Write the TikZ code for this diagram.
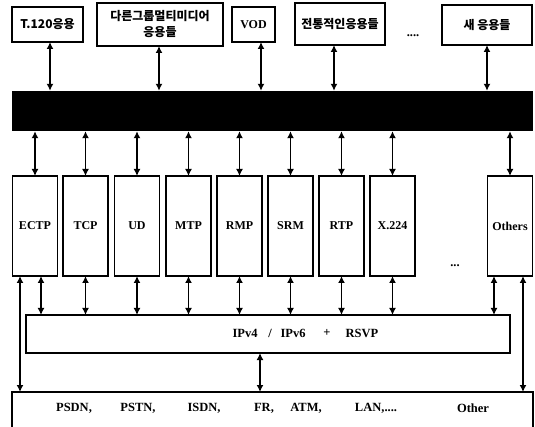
\documentclass[tikz,border=0pt]{standalone}
\usepackage{fontspec}
\setmainfont{Liberation Serif}
\newfontfamily\kr{Noto Sans CJK KR}
\usetikzlibrary{arrows.meta}
\begin{document}
\begin{tikzpicture}[x=1pt,y=-1pt,
  box/.style={draw, line width=1.4pt, inner sep=0pt, outer sep=0pt, align=center},
  appbox/.style={box, font=\kr\bfseries\fontsize{12}{16}\selectfont},
  protobox/.style={box, minimum width=45pt, minimum height=100pt, font=\bfseries\fontsize{12}{14}\selectfont},
  lbl/.style={inner sep=0pt, font=\bfseries\fontsize{12.5}{14}\selectfont},
  dar/.style={line width=1.5pt, {Latex[length=7pt,width=7pt]}-{Latex[length=7pt,width=7pt]}}]
\useasboundingbox (0,0) rectangle (535,427);
\clip (0,0) rectangle (535,427);
% application boxes
\node[appbox, minimum width=71pt, minimum height=35pt] (t1) at (47.5,24.5) {T.120응용};
\node[appbox, minimum width=126pt, minimum height=43pt] (t2) at (160,24.5) {다른그룹멀티미디어\\응용들};
\node[box, minimum width=43pt, minimum height=35pt, font=\bfseries\fontsize{12}{14}\selectfont] (t3) at (253.5,24.5) {VOD};
\node[appbox, minimum width=90pt, minimum height=42pt] (t4) at (340,24) {전통적인응용들};
\node[lbl] (dots1) at (413,36) {....};
\node[appbox, minimum width=90pt, minimum height=40pt] (t5) at (487,25) {새 응용들};
% black bar
\node[fill=black, inner sep=0pt, minimum width=521pt, minimum height=40pt] (bar) at (272.5,111) {};
\draw[dar] (t1.south -| 50,0) -- (bar.north -| 50,0);
\draw[dar] (t2.south -| 159,0) -- (bar.north -| 159,0);
\draw[dar] (t3.south -| 261,0) -- (bar.north -| 261,0);
\draw[dar] (t4.south -| 334,0) -- (bar.north -| 334,0);
\draw[dar] (t5.south) -- (t5.south |- bar.north);
% protocol boxes
\node[protobox] (p1) at (35,226) {ECTP};
\node[protobox] (p2) at (85.5,226) {TCP};
\node[protobox] (p3) at (137,226) {UD};
\node[protobox] (p4) at (188.5,226) {MTP};
\node[protobox] (p5) at (239.5,226) {RMP};
\node[protobox] (p6) at (290.5,226) {SRM};
\node[protobox] (p7) at (341.5,226) {RTP};
\node[protobox] (p8) at (392.5,226) {X.224};
\node[protobox] (p9) at (510,226) {Others};
\node[lbl] (dots2) at (455,266) {...};
\foreach \p in {p1,p2,p3,p4,p5,p6,p7,p8,p9}
  \draw[dar] (bar.south -| \p.north) -- (\p.north);
% IP box
\node[box, minimum width=484pt, minimum height=38pt] (ip) at (268,334) {};
\node[lbl] (ip1) at (245,333) {IPv4};
\node[lbl] (ip2) at (270,333) {/};
\node[lbl] (ip3) at (293,333) {IPv6};
\node[lbl] (ip4) at (327,333) {+};
\node[lbl] (ip5) at (362,333) {RSVP};
\draw[dar] ([xshift=6pt]p1.south) -- ([xshift=6pt]p1.south |- ip.north);
\foreach \p in {p2,p3,p4,p5,p6,p7,p8}
  \draw[dar] (\p.south) -- (\p.south |- ip.north);
\draw[dar] ([xshift=-16pt]p9.south) -- ([xshift=-16pt]p9.south |- ip.north);
% bottom box
\node[box, minimum width=521pt, minimum height=44pt, anchor=north] (bot) at (272.5,392) {};
\draw[dar] (ip.south -| 260,0) -- (bot.north -| 260,0);
\draw[dar] ([xshift=-15pt]p1.south) -- ([xshift=-15pt]p1.south |- bot.north);
\draw[dar] ([xshift=13pt]p9.south) -- ([xshift=13pt]p9.south |- bot.north);
\node[lbl] (b1) at (74,408) {PSDN,};
\node[lbl] (b2) at (138,408) {PSTN,};
\node[lbl] (b3) at (204,408) {ISDN,};
\node[lbl] (b4) at (264,408) {FR,};
\node[lbl] (b5) at (306,408) {ATM,};
\node[lbl] (b6) at (376,408) {LAN,....};
\node[lbl] (b7) at (473,408) {Other};
\end{tikzpicture}
\end{document}
